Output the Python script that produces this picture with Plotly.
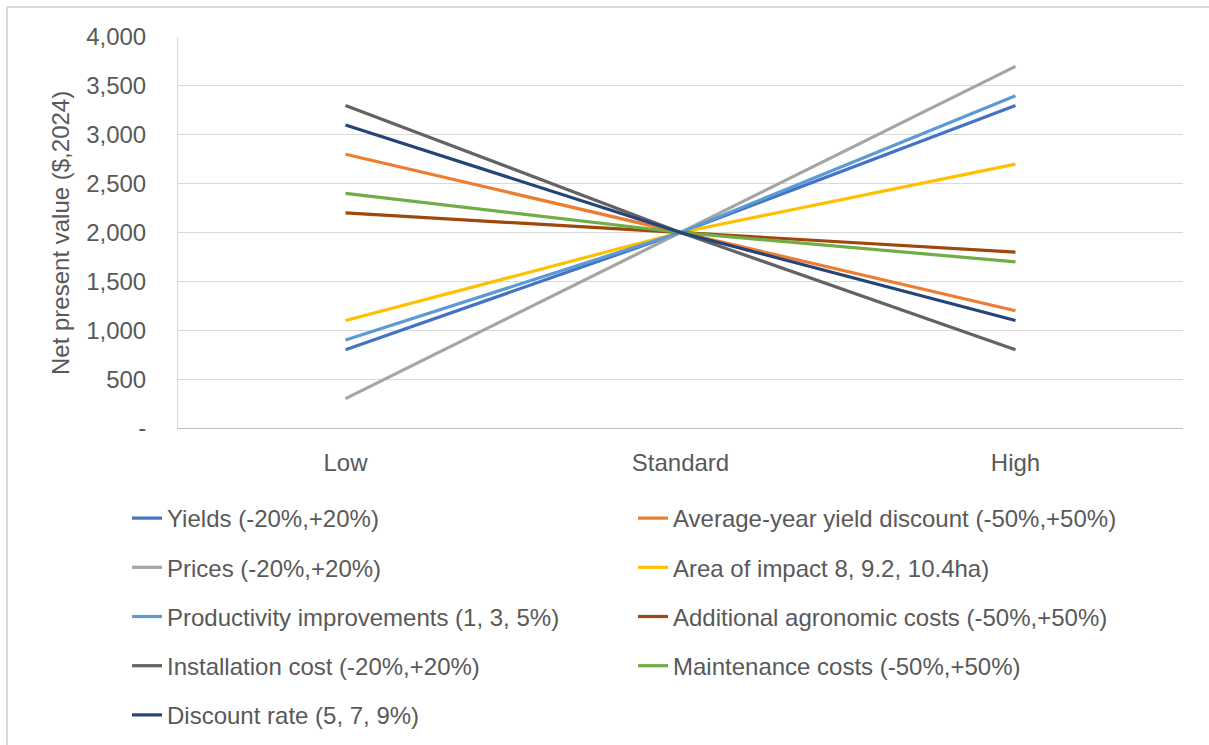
import plotly.graph_objects as go

categories = ["Low", "Standard", "High"]

series_names = [
    "Yields (-20%,+20%)",
    "Average-year yield discount (-50%,+50%)",
    "Prices (-20%,+20%)",
    "Area of impact 8, 9.2, 10.4ha)",
    "Productivity improvements (1, 3, 5%)",
    "Additional agronomic costs (-50%,+50%)",
    "Installation cost (-20%,+20%)",
    "Maintenance costs (-50%,+50%)",
    "Discount rate (5, 7, 9%)",
]

yields = [800, 2000, 3300]
avg_year_yield_discount = [2800, 2000, 1200]
prices = [300, 2000, 3700]
area_of_impact = [1100, 2000, 2700]
productivity = [900, 2000, 3400]
additional_agronomic = [2200, 2000, 1800]
installation_cost = [3300, 2000, 800]
maintenance_costs = [2400, 2000, 1700]
discount_rate = [3100, 2000, 1100]

series_values = [yields, avg_year_yield_discount, prices, area_of_impact, productivity,
                 additional_agronomic, installation_cost, maintenance_costs, discount_rate]

colors = ["#4472C4", "#ED7D31", "#A5A5A5", "#FFC000", "#5B9BD5",
          "#9E480E", "#636363", "#70AD47", "#264478"]

y_tick_vals = [0, 500, 1000, 1500, 2000, 2500, 3000, 3500, 4000]
y_tick_text = ["-", "500", "1,000", "1,500", "2,000", "2,500", "3,000", "3,500", "4,000"]
y_title = "Net present value ($,2024)"

W, H = 1209, 745
L, R, T, B = 178, 1183, 37, 428

FONT = "Liberation Sans, Arial, sans-serif"
TXT = "#595959"
FS = 24

fig = go.Figure()
for i, (name, vals) in enumerate(zip(series_names, series_values)):
    fig.add_trace(go.Scatter(
        x=categories, y=vals, name=name, mode="lines",
        line=dict(color=colors[i], width=3.2),
        legend="legend" if i % 2 == 0 else "legend2",
        legendgroup=f"g{i}",
        legendrank=i,
    ))

def px_x(p):
    return (p - L) / (R - L)

def px_y(p):
    return (B - p) / (B - T)

legend_common = dict(
    orientation="v", xref="container", yref="container",
    yanchor="top", xanchor="left",
    font=dict(family=FONT, size=FS, color=TXT),
    tracegroupgap=15, traceorder="grouped",
    bgcolor="rgba(0,0,0,0)", itemwidth=30,
)

fig.update_layout(
    width=W, height=H,
    margin=dict(l=L, r=W - R, t=T, b=H - B, pad=0, autoexpand=False),
    paper_bgcolor="white", plot_bgcolor="white",
    font=dict(family=FONT, size=FS, color=TXT),
    showlegend=True,
    legend=dict(x=127 / W, y=1 - 496 / H, **legend_common),
    legend2=dict(x=633 / W, y=1 - 496 / H, **legend_common),
    xaxis=dict(
        type="category", categoryorder="array", categoryarray=categories,
        range=[-0.5, 2.5], showgrid=False, showline=True, linecolor="#BFBFBF",
        linewidth=1, ticks="", ticklabelstandoff=13, automargin=False,
        tickfont=dict(family=FONT, size=FS, color=TXT), zeroline=False,
    ),
    yaxis=dict(
        range=[0, 4000], tickvals=y_tick_vals, ticktext=y_tick_text,
        showgrid=True, gridcolor="#D9D9D9", gridwidth=1,
        showline=True, linecolor="#D9D9D9", linewidth=1,
        ticks="", ticklabelstandoff=26, zeroline=False, automargin=False,
        tickfont=dict(family=FONT, size=FS, color=TXT),
    ),
    annotations=[
        dict(text=y_title, textangle=-90, xref="paper", yref="paper",
             x=px_x(60), y=px_y(233), xanchor="center", yanchor="middle",
             showarrow=False, font=dict(family=FONT, size=FS, color=TXT)),
    ],
    shapes=[
        dict(type="line", xref="paper", yref="paper",
             x0=px_x(7), x1=px_x(7), y0=px_y(745), y1=px_y(7),
             line=dict(color="#D9D9D9", width=2)),
        dict(type="line", xref="paper", yref="paper",
             x0=px_x(7), x1=px_x(1209), y0=px_y(7), y1=px_y(7),
             line=dict(color="#D9D9D9", width=2)),
    ],
)

fig.write_html("out.html", config={"displayModeBar": False},
               post_script="document.body.style.margin='0';document.body.style.overflow='hidden';")
